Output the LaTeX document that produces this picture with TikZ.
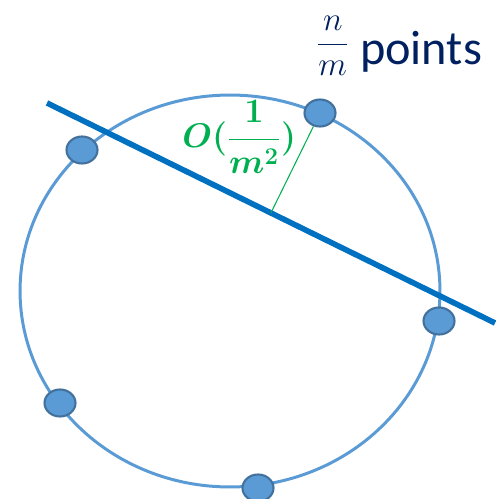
\RequirePackage{fix-cm}
\documentclass[tikz,border=0pt]{standalone}
\usepackage{fontspec}
\setmainfont{Carlito}
\usepackage{xcolor}
\usetikzlibrary{shapes.geometric, calc}

\definecolor{ringblue}{HTML}{5B9BD5}
\definecolor{dotedge}{HTML}{41719C}
\definecolor{cutblue}{HTML}{0070C0}
\definecolor{gapgreen}{HTML}{00B050}
\definecolor{labelnavy}{HTML}{002060}

\begin{document}
\begin{tikzpicture}[
    x=0.02cm, y=-0.02cm,
    ring/.style={draw=ringblue, line width=1.7pt},
    dot/.style={ellipse, draw=dotedge, fill=ringblue, line width=1.2pt, minimum width=0.62cm, minimum height=0.54cm, inner sep=0pt},
    cutline/.style={draw=cutblue, line width=3.2pt},
    gapline/.style={draw=gapgreen, line width=0.6pt}
]
\useasboundingbox (0,0) rectangle (495,499);

\coordinate (center) at (230,291);
\draw[ring] (center) ellipse [x radius=4.2cm, y radius=3.92cm];

\coordinate (cutA) at (47,103);
\coordinate (cutB) at (495,323);
\draw[cutline] (cutA) -- (cutB);

\node[dot] (pTop) at (320,113) {};
\node[dot] (pLeft) at (82,150) {};
\node[dot] (pRight) at (439,321) {};
\node[dot] (pLowL) at (60,403) {};
\node[dot] (pBottom) at (258,488) {};

\coordinate (foot) at ($(cutA)!(pTop)!(cutB)$);
\draw[gapline] (pTop) -- (foot);

\node[anchor=base west, inner sep=0pt, text=gapgreen, font=\fontsize{19.5}{22}\selectfont\boldmath] (gap) at (182,148) {$\displaystyle O(\frac{1}{m^2})$};
\node[anchor=base west, inner sep=0pt, text=labelnavy, font=\fontsize{27.5}{32}\selectfont] (count) at (316,65) {\raisebox{0.24cm}{\fontsize{19}{22}\selectfont$\displaystyle\frac{n}{m}$} points};
\end{tikzpicture}
\end{document}
